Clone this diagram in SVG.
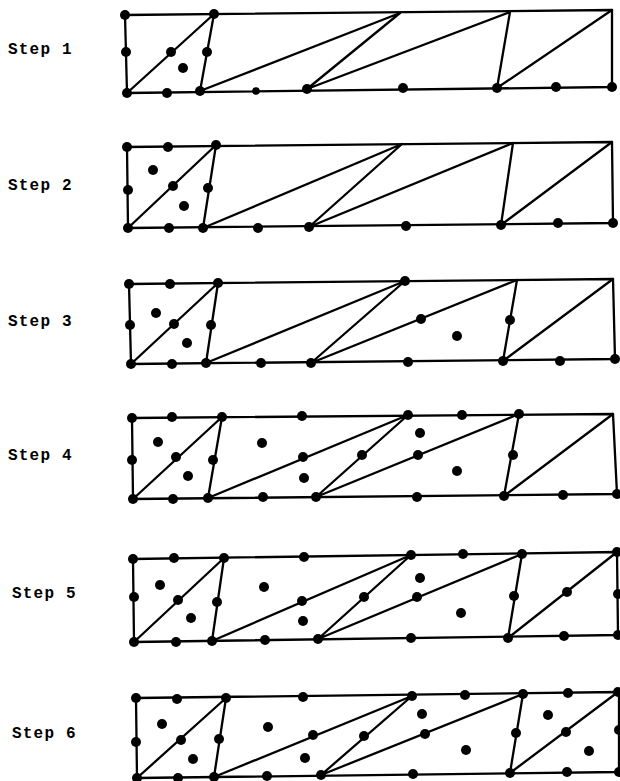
<svg xmlns="http://www.w3.org/2000/svg" width="620" height="781" viewBox="0 0 620 781">
<style>
.e{fill:none;stroke:#000;stroke-width:2.3;stroke-linejoin:round;stroke-linecap:round}
.d circle{fill:#000}
.lb{font-family:"Liberation Mono","DejaVu Sans Mono",monospace;font-size:16px;font-weight:bold;fill:#000;letter-spacing:1.2px}
</style>
<rect width="620" height="781" fill="#fff"/>
<g id="labels">
<text class="lb" x="8" y="54">Step 1</text>
<text class="lb" x="8" y="190">Step 2</text>
<text class="lb" x="8" y="326">Step 3</text>
<text class="lb" x="8" y="460">Step 4</text>
<text class="lb" x="12" y="598">Step 5</text>
<text class="lb" x="12" y="738">Step 6</text>
</g>
<g id="connectors">
<polygon class="e" points="125,15 612,10 612,87 127,93"/>
<polyline class="e" points="127,93 214,14 200,91 400,13 307,89 510,12 497,88 612,10"/>
<polygon class="e" points="127,147 612,142 613,223 128,228"/>
<polyline class="e" points="128,228 216,145 203,228 402,144 309,227 513,143 501,225 612,142"/>
<polygon class="e" points="129,284 613,279 615,359 131,364"/>
<polyline class="e" points="131,364 218,283 206,363 405,281 311,363 517,280 503,361 613,279"/>
<polygon class="e" points="132,418 613,414 617,494 133,499"/>
<polyline class="e" points="133,499 222,417 208,498 408,415 316,497 519,414 504,496 613,414"/>
<polygon class="e" points="133,559 617,552 618,635 134,642"/>
<polyline class="e" points="134,642 224,558 212,641 411,555 318,639 522,554 508,638 617,552"/>
<polygon class="e" points="136,698 619,692 619,772 137,778"/>
<polyline class="e" points="137,778 226,698 214,777 412,696 321,775 523,694 510,773 618,692"/>
</g>
<g id="step1" class="d">
<circle cx="125" cy="15" r="5"/><circle cx="214" cy="14" r="5"/>
<circle cx="126" cy="52" r="5"/><circle cx="171" cy="52" r="5"/><circle cx="207" cy="52" r="5"/>
<circle cx="183" cy="68" r="5"/>
<circle cx="127" cy="93" r="5"/><circle cx="167" cy="93" r="5"/><circle cx="200" cy="91" r="5"/>
<circle cx="256" cy="91" r="3.8"/><circle cx="307" cy="89" r="5"/>
<circle cx="403" cy="88" r="5"/><circle cx="497" cy="88" r="5"/><circle cx="556" cy="87" r="5"/><circle cx="612" cy="87" r="5"/>
</g>
<g id="step2" class="d">
<circle cx="127" cy="147" r="5"/><circle cx="168" cy="147" r="5"/><circle cx="216" cy="145" r="5"/>
<circle cx="153" cy="170" r="5"/>
<circle cx="128" cy="190" r="5"/><circle cx="173" cy="186" r="5"/><circle cx="208" cy="188" r="5"/>
<circle cx="184" cy="206" r="5"/>
<circle cx="128" cy="228" r="5"/><circle cx="169" cy="228" r="5"/><circle cx="203" cy="228" r="5"/>
<circle cx="258" cy="228" r="5"/><circle cx="309" cy="227" r="5"/>
<circle cx="406" cy="226" r="5"/><circle cx="501" cy="225" r="5"/><circle cx="558" cy="223" r="5"/><circle cx="613" cy="223" r="5"/>
</g>
<g id="step3" class="d">
<circle cx="129" cy="284" r="5"/><circle cx="170" cy="284" r="5"/><circle cx="218" cy="283" r="5"/>
<circle cx="405" cy="281" r="5"/>
<circle cx="156" cy="313" r="5"/>
<circle cx="130" cy="325" r="5"/><circle cx="174" cy="324" r="5"/><circle cx="211" cy="325" r="5"/>
<circle cx="187" cy="343" r="5"/>
<circle cx="421" cy="319" r="5"/><circle cx="457" cy="336" r="5"/><circle cx="510" cy="320" r="5"/>
<circle cx="131" cy="364" r="5"/><circle cx="172" cy="364" r="5"/><circle cx="206" cy="363" r="5"/>
<circle cx="261" cy="363" r="5"/><circle cx="311" cy="363" r="5"/>
<circle cx="408" cy="362" r="5"/><circle cx="503" cy="361" r="5"/><circle cx="560" cy="361" r="5"/><circle cx="615" cy="359" r="5"/>
</g>
<g id="step4" class="d">
<circle cx="132" cy="418" r="5"/><circle cx="172" cy="417" r="5"/><circle cx="222" cy="417" r="5"/><circle cx="302" cy="416" r="5"/>
<circle cx="408" cy="415" r="5"/><circle cx="462" cy="415" r="5"/><circle cx="519" cy="414" r="5"/>
<circle cx="158" cy="442" r="5"/><circle cx="262" cy="443" r="5"/><circle cx="420" cy="433" r="5"/>
<circle cx="132" cy="460" r="5"/><circle cx="176" cy="457" r="5"/><circle cx="213" cy="460" r="5"/>
<circle cx="303" cy="457" r="5"/><circle cx="362" cy="455" r="5"/><circle cx="418" cy="455" r="5"/><circle cx="513" cy="455" r="5"/>
<circle cx="188" cy="476" r="5"/><circle cx="304" cy="478" r="5"/><circle cx="457" cy="471" r="5"/>
<circle cx="133" cy="499" r="5"/><circle cx="173" cy="499" r="5"/><circle cx="208" cy="498" r="5"/>
<circle cx="263" cy="497" r="5"/><circle cx="316" cy="497" r="5"/>
<circle cx="417" cy="497" r="5"/><circle cx="504" cy="496" r="5"/><circle cx="563" cy="495" r="5"/><circle cx="617" cy="494" r="5"/>
</g>
<g id="step5" class="d">
<circle cx="133" cy="559" r="5"/><circle cx="174" cy="558" r="5"/><circle cx="224" cy="558" r="5"/><circle cx="304" cy="557" r="5"/>
<circle cx="411" cy="555" r="5"/><circle cx="463" cy="554" r="5"/><circle cx="522" cy="554" r="5"/><circle cx="617" cy="552" r="5"/>
<circle cx="160" cy="585" r="5"/><circle cx="264" cy="587" r="5"/><circle cx="420" cy="578" r="5"/>
<circle cx="134" cy="597" r="5"/><circle cx="178" cy="600" r="5"/><circle cx="217" cy="602" r="5"/>
<circle cx="302" cy="601" r="5"/><circle cx="364" cy="597" r="5"/><circle cx="417" cy="597" r="5"/>
<circle cx="514" cy="596" r="5"/><circle cx="567" cy="592" r="5"/><circle cx="618" cy="594" r="5"/>
<circle cx="191" cy="618" r="5"/><circle cx="303" cy="621" r="5"/><circle cx="461" cy="613" r="5"/>
<circle cx="134" cy="642" r="5"/><circle cx="176" cy="642" r="5"/><circle cx="212" cy="641" r="5"/>
<circle cx="265" cy="640" r="5"/><circle cx="318" cy="639" r="5"/>
<circle cx="411" cy="638" r="5"/><circle cx="508" cy="638" r="5"/><circle cx="564" cy="636" r="5"/><circle cx="618" cy="635" r="5"/>
</g>
<g id="step6" class="d">
<circle cx="136" cy="698" r="5"/><circle cx="177" cy="699" r="5"/><circle cx="226" cy="698" r="5"/><circle cx="303" cy="697" r="5"/>
<circle cx="412" cy="696" r="5"/><circle cx="465" cy="695" r="5"/><circle cx="523" cy="694" r="5"/><circle cx="568" cy="693" r="5"/><circle cx="618" cy="692" r="5"/>
<circle cx="162" cy="724" r="5"/><circle cx="268" cy="727" r="5"/><circle cx="422" cy="714" r="5"/><circle cx="548" cy="715" r="5"/>
<circle cx="136" cy="742" r="5"/><circle cx="181" cy="740" r="5"/><circle cx="219" cy="739" r="5"/>
<circle cx="313" cy="735" r="5"/><circle cx="364" cy="736" r="5"/><circle cx="425" cy="734" r="5"/>
<circle cx="516" cy="733" r="5"/><circle cx="566" cy="732" r="5"/><circle cx="619" cy="730" r="5"/>
<circle cx="193" cy="759" r="5"/><circle cx="305" cy="758" r="5"/><circle cx="466" cy="750" r="5"/><circle cx="589" cy="751" r="5"/>
<circle cx="137" cy="778" r="5"/><circle cx="178" cy="778" r="5"/><circle cx="214" cy="777" r="5"/>
<circle cx="267" cy="776" r="5"/><circle cx="321" cy="775" r="5"/>
<circle cx="413" cy="774" r="5"/><circle cx="510" cy="773" r="5"/><circle cx="567" cy="772" r="5"/><circle cx="619" cy="772" r="5"/>
</g>
</svg>
